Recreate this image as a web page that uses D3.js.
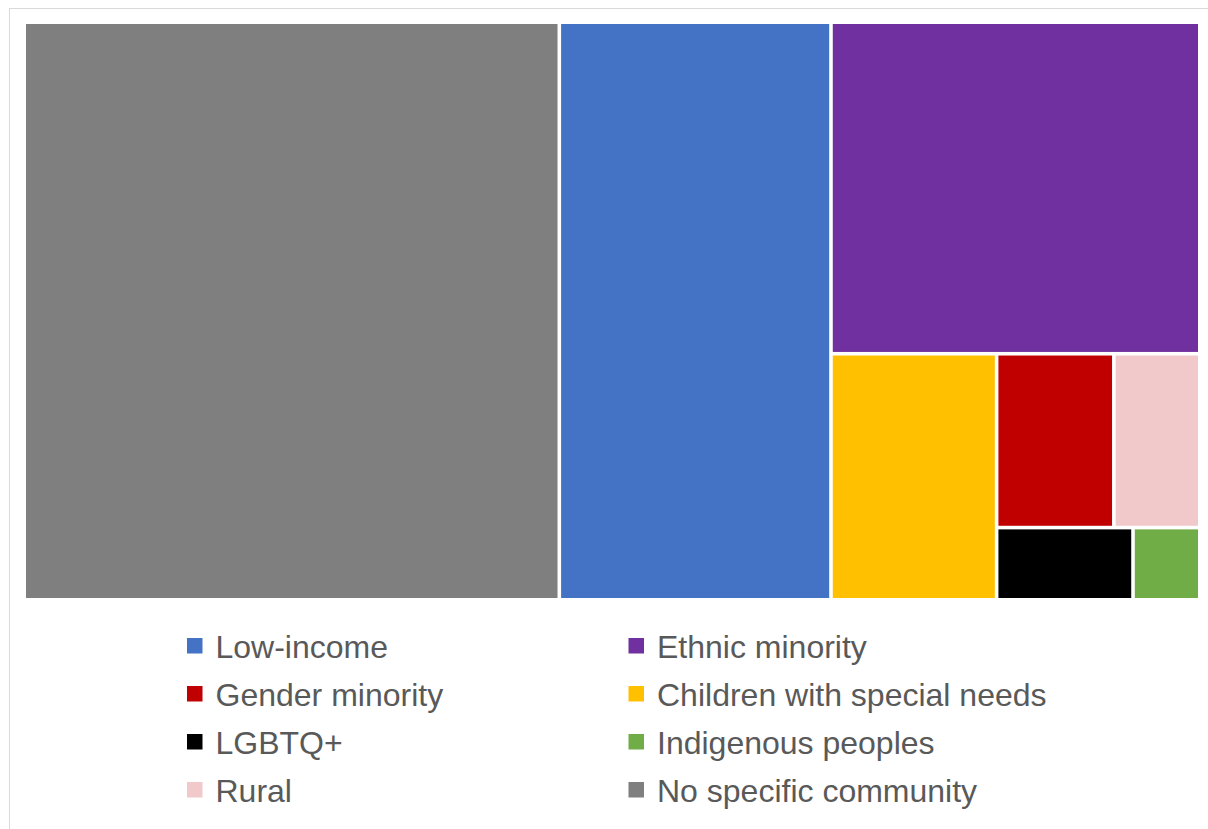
<!DOCTYPE html>
<html>
<head>
<meta charset="utf-8">
<script src="https://cdn.jsdelivr.net/npm/d3@7"></script>
<style>
  html, body { margin: 0; padding: 0; background: #fff; }
  svg { display: block; }
</style>
</head>
<body>
<svg id="chart" width="1208" height="829"></svg>
<script>
// ---- data ----
const categories = ["No specific community", "Low-income", "Ethnic minority", "Children with special needs",
                    "Gender minority", "Rural", "LGBTQ+", "Indigenous peoples"];
const values = [45.5, 23.1, 18.0, 6.0, 3.0, 2.2, 1.45, 0.71];
const colors = ["#7f7f7f", "#4472c4", "#7030a0", "#ffc000", "#c00000", "#f2c9ca", "#000000", "#70ad47"];
// nesting of the tiles (indices into categories), as laid out in the picture
const nesting = [0, 1, [2, [3, [[4, 5], [6, 7]]]]];
// legend order (row-major, two columns)
const legendOrder = ["Low-income", "Ethnic minority", "Gender minority", "Children with special needs",
                     "LGBTQ+", "Indigenous peoples", "Rural", "No specific community"];

// ---- build ----
const svg = d3.select("#chart");
const W = 1208, H = 829;

// outer chart border
svg.append("rect")
  .attr("x", 9.5).attr("y", 8.5)
  .attr("width", W + 10).attr("height", H + 10)
  .attr("fill", "#fff").attr("stroke", "#d9d9d9").attr("stroke-width", 1);

function build(node) {
  if (Array.isArray(node)) return { children: node.map(build) };
  return { name: categories[node], value: values[node], color: colors[node] };
}
const root = d3.hierarchy(build(nesting)).sum(d => d.value || 0);

const tx = 26, ty = 24, tw = 1172, th = 574;
d3.treemap()
  .tile(d3.treemapSliceDice)
  .size([tw, th])
  .paddingInner(3.6)
  .round(false)(root);

const g = svg.append("g").attr("transform", `translate(${tx},${ty})`);
g.selectAll("rect.cell")
  .data(root.leaves())
  .join("rect")
  .attr("class", "cell")
  .attr("x", d => d.x0).attr("y", d => d.y0)
  .attr("width", d => d.x1 - d.x0).attr("height", d => d.y1 - d.y0)
  .attr("fill", d => d.data.color);

// ---- legend ----
const colorOf = new Map(categories.map((c, i) => [c, colors[i]]));
const colX = [187, 628.5];
const rowY = d3.scaleBand().domain(d3.range(4)).range([622, 814]);
const leg = svg.append("g");
legendOrder.forEach((name, i) => {
  const col = i % 2, row = Math.floor(i / 2);
  const cy = rowY(row) + rowY.bandwidth() / 2;
  leg.append("rect")
    .attr("x", colX[col]).attr("y", cy - 8)
    .attr("width", 15.5).attr("height", 15.5)
    .attr("fill", colorOf.get(name));
  leg.append("text")
    .attr("x", colX[col] + 28.5).attr("y", cy)
    .attr("dy", "0.36em")
    .attr("font-family", "'Liberation Sans', Arial, sans-serif")
    .attr("font-size", 32)
    .attr("fill", "#595959")
    .text(name);
});
</script>
</body>
</html>
